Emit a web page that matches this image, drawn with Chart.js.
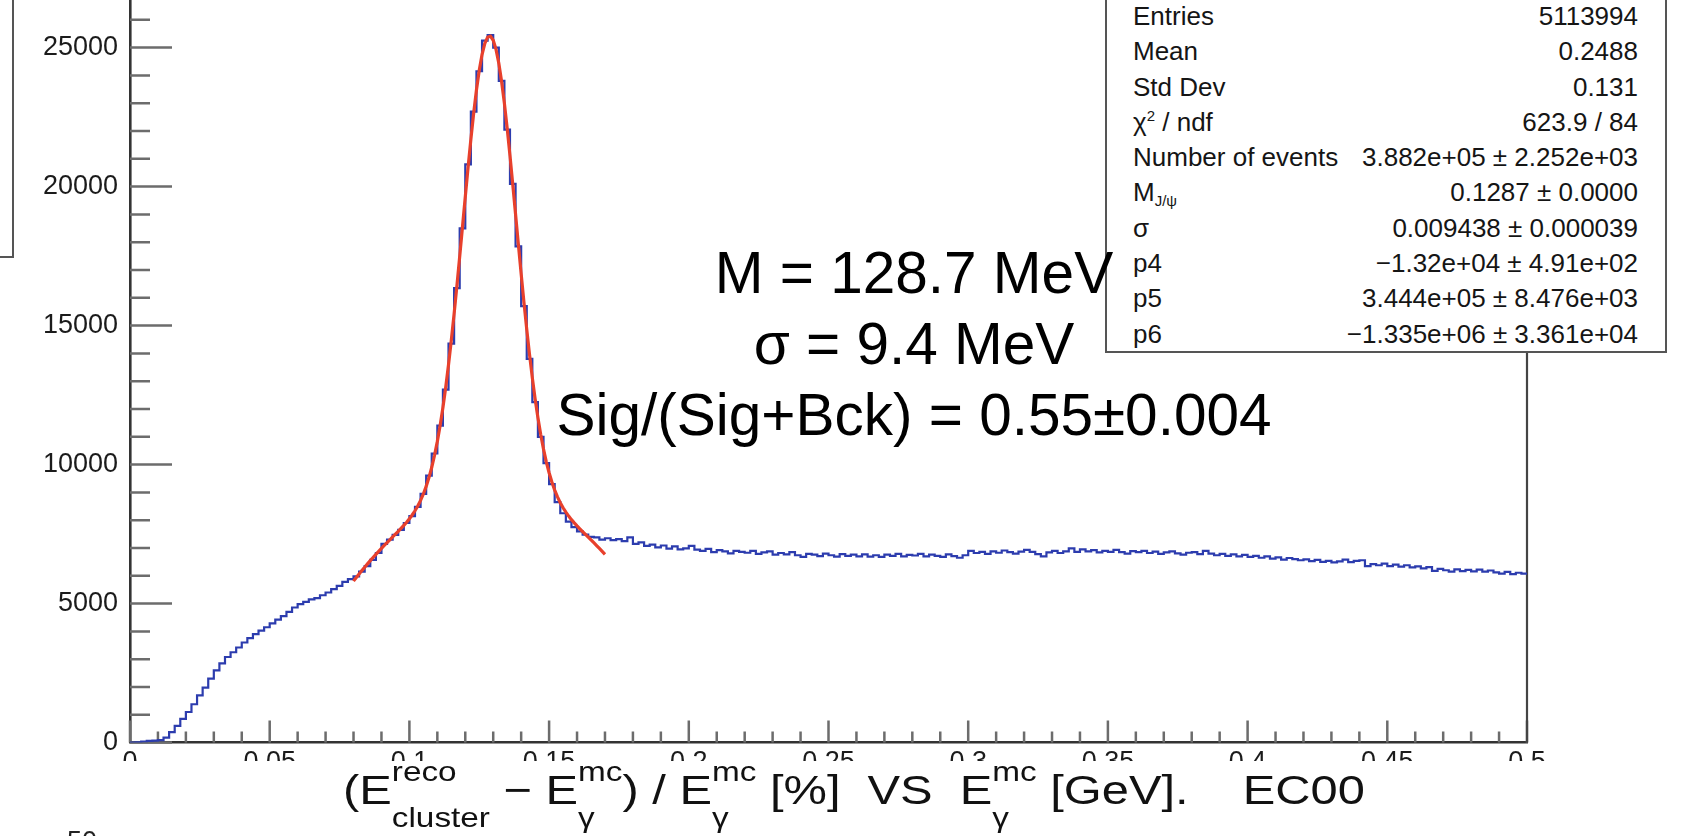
<!DOCTYPE html>
<html>
<head>
<meta charset="utf-8">
<title>EC00 cluster energy resolution</title>
<script src="https://cdn.jsdelivr.net/npm/chart.js@4.4.1/dist/chart.umd.min.js"></script>
<style>
  html, body { margin: 0; padding: 0; background: #fff; overflow: hidden; }
  body { width: 1690px; height: 836px; position: relative; font-family: "Liberation Sans", Arial, sans-serif; color: #111; }
  #wrap { position: absolute; left: 0; top: -40px; width: 1690px; height: 876px; }
  #labelMask { position: absolute; left: 0; top: 761px; width: 1690px; height: 90px; background: #fff; }
  #xtitle { position: absolute; left: 343px; top: 759px; font-size: 41px; line-height: 40px; white-space: nowrap; color: #111;
            transform: scaleX(1.19); transform-origin: 0 0; }
  .ss { display: inline-grid; font-size: 28px; line-height: 26px; row-gap: 20px; vertical-align: 23px; }
  #nextPad { position: absolute; left: 67px; top: 826px; font-size: 27px; line-height: 30px; color: #222; }
  #legendEdge { position: absolute; left: -20px; top: -10px; width: 34px; height: 268px; box-sizing: border-box; border: 2.5px solid #555; }
  #stats { position: absolute; left: 1105px; top: -3px; width: 562px; height: 356px; box-sizing: border-box; border: 2px solid #555; background: #fff; padding: 0 27px 0 26px; }
  #stats .row { display: flex; justify-content: space-between; height: 35.3px; line-height: 35.3px; font-size: 26px; color: #151515; white-space: nowrap; }
  #stats sub, #stats sup { font-size: 15px; line-height: 0; }
  #stats sub { vertical-align: -5px; }
  #stats sup { vertical-align: 10px; }
  #notes { position: absolute; left: 514px; top: 237px; width: 800px; text-align: center; font-size: 58.5px; line-height: 71px; color: #000; white-space: nowrap; }
</style>
</head>
<body>
<div id="wrap"><canvas id="myChart"></canvas></div>
<div id="labelMask"></div>
<div id="xtitle">(E<span class="ss"><span>reco</span><span>cluster</span></span> − E<span class="ss"><span>mc</span><span>γ</span></span>) / E<span class="ss"><span>mc</span><span>γ</span></span> [%]&nbsp; VS &nbsp;E<span class="ss"><span>mc</span><span>γ</span></span> [GeV].&nbsp;&nbsp;&nbsp; EC00</div>
<div id="nextPad">50</div>
<div id="legendEdge"></div>
<div id="stats"></div>
<div id="notes"></div>
<script>
// histogram bins: left edges from 0 in steps of binWidth, contents read per bin
const binWidth = 0.002;
const histCounts = [
    0, 10, 40, 60, 70, 90, 180, 380, 600, 850,
    1100, 1380, 1700, 1980, 2300, 2600, 2850, 3080, 3250, 3420,
    3600, 3760, 3900, 4030, 4150, 4290, 4420, 4550, 4700, 4860,
    4980, 5060, 5150, 5200, 5300, 5400, 5520, 5640, 5780, 5880,
    5980, 6150, 6350, 6570, 6820, 7150, 7300, 7470, 7650, 7900,
    8150, 8480, 8950, 9600, 10400, 11400, 12700, 14350, 16350, 18500,
    20800, 22700, 24150, 25250, 25450, 25000, 23800, 22050, 20100, 17850,
    15700, 13800, 12250, 11000, 10050, 9300, 8650, 8250, 7950, 7750,
    7600, 7480, 7400, 7380, 7300, 7350, 7280, 7320, 7250, 7380,
    7150, 7200, 7080, 7120, 7020, 7090, 6980, 7060, 6950, 6990,
    7080, 6940, 6900, 6970, 6850, 6920, 6880, 6810, 6900, 6860,
    6830, 6900, 6790, 6840, 6880, 6760, 6820, 6770, 6850, 6740,
    6680, 6790, 6760, 6710, 6800, 6740, 6690, 6780, 6720, 6760,
    6700, 6770, 6690, 6740, 6680, 6760, 6720, 6790, 6700, 6750,
    6730, 6790, 6700, 6760, 6720, 6680, 6770, 6710, 6650, 6740,
    6900, 6820, 6860, 6790, 6880, 6830, 6910, 6850, 6800, 6870,
    6930, 6860, 6780, 6700, 6840, 6900, 6820, 6880, 6990, 6860,
    6950, 6880, 6920, 6840, 6900, 6860, 6930, 6850, 6800, 6890,
    6850, 6900, 6820, 6870, 6790, 6840, 6880, 6810, 6760, 6830,
    6850, 6780, 6900, 6800, 6740, 6790, 6720, 6770, 6700, 6750,
    6680, 6720, 6650, 6700, 6620, 6660, 6580, 6640, 6600, 6560,
    6590, 6530, 6570, 6500, 6540, 6480, 6520, 6580, 6490, 6540,
    6560, 6350, 6420, 6380, 6440, 6350, 6400, 6330, 6380, 6300,
    6340, 6270, 6310, 6180, 6250, 6200, 6150, 6230, 6170, 6210,
    6160, 6220, 6150, 6190, 6120, 6080, 6140, 6060, 6110, 6080
];

// fit: gaussian (events, mean, sigma) + pol2 (p4, p5, p6), fitted on 1 MeV bins
const fitPar = [3.882e5, 0.1287, 0.009438, -1.32e4, 3.444e5, -1.335e6];
const fitRange = [0.08, 0.17];
const fitBinWidth = 0.001;

const xTickValues = [0, 0.05, 0.1, 0.15, 0.2, 0.25, 0.3, 0.35, 0.4, 0.45, 0.5];
const xTickLabels = ['0', '0.05', '0.1', '0.15', '0.2', '0.25', '0.3', '0.35', '0.4', '0.45', '0.5'];
const yTickValues = [0, 5000, 10000, 15000, 20000, 25000];
const yTickLabels = ['0', '5000', '10000', '15000', '20000', '25000'];

const statLabels = ['Entries', 'Mean', 'Std Dev', 'χ<sup>2</sup> / ndf', 'Number of events',
    'M<sub>J/ψ</sub>', 'σ', 'p4', 'p5', 'p6'];
const statValues = ['5113994', '0.2488', '0.131', '623.9 / 84',
    '3.882e+05 ± 2.252e+03', '0.1287 ± 0.0000', '0.009438 ± 0.000039',
    '−1.32e+04 ± 4.91e+02', '3.444e+05 ± 8.476e+03', '−1.335e+06 ± 3.361e+04'];

const noteLines = ['M = 128.7 MeV', 'σ = 9.4 MeV', 'Sig/(Sig+Bck) = 0.55±0.004'];

function fitValue(x) {
    const [n, m, s, p4, p5, p6] = fitPar;
    const gaus = n * fitBinWidth / (s * Math.sqrt(2 * Math.PI)) * Math.exp(-0.5 * ((x - m) / s) ** 2);
    return gaus + p4 + p5 * x + p6 * x * x;
}

const histPoints = histCounts.map((c, i) => ({ x: i * binWidth, y: c }));
histPoints.push({ x: histCounts.length * binWidth, y: histCounts[histCounts.length - 1] });

const fitPoints = [];
for (let i = 0; i <= Math.round((fitRange[1] - fitRange[0]) / fitBinWidth); i++) {
    const x = fitRange[0] + i * fitBinWidth;
    fitPoints.push({ x: x, y: fitValue(x) });
}

document.getElementById('stats').innerHTML = statLabels.map((l, i) =>
    `<div class="row"><span>${l}</span><span>${statValues[i]}</span></div>`).join('');
document.getElementById('notes').innerHTML = noteLines.map(t => `<div>${t}</div>`).join('');

// ROOT style ticks inside the frame, plus the right edge of the frame
const frameTicks = {
    id: 'frameTicks',
    beforeDatasetsDraw(chart) {
        const { ctx, chartArea, scales: { x, y } } = chart;
        ctx.save();
        ctx.strokeStyle = '#6c6c6c';
        ctx.lineWidth = 2.5;
        ctx.beginPath();
        for (let v = 0; v <= 26000; v += 1000) {
            const py = y.getPixelForValue(v);
            const len = v % 5000 === 0 ? 42 : 20;
            ctx.moveTo(chartArea.left, py);
            ctx.lineTo(chartArea.left + len, py);
        }
        for (let i = 0; i <= 50; i++) {
            const px = x.getPixelForValue(i / 100);
            const len = i % 5 === 0 ? 22 : 11;
            ctx.moveTo(px, chartArea.bottom);
            ctx.lineTo(px, chartArea.bottom - len);
        }
        ctx.stroke();
        ctx.strokeStyle = '#444';
        ctx.lineWidth = 2.2;
        ctx.beginPath();
        ctx.moveTo(chartArea.right, chartArea.top);
        ctx.lineTo(chartArea.right, chartArea.bottom);
        ctx.stroke();
        ctx.restore();
    }
};

const tickFont = { family: 'Liberation Sans', size: 27 };

const myChart = new Chart(document.getElementById('myChart').getContext('2d'), {
    type: 'line',
    data: {
        datasets: [{
            label: 'fit',
            data: fitPoints,
            borderColor: '#e8402c',
            borderWidth: 3.2,
            pointRadius: 0,
            tension: 0,
        }, {
            label: 'EC00',
            data: histPoints,
            borderColor: '#2c3cae',
            borderWidth: 2.2,
            pointRadius: 0,
            stepped: true,
        }]
    },
    options: {
        responsive: true,
        maintainAspectRatio: false,
        animation: false,
        layout: { padding: { top: 32, right: 163, left: 0, bottom: 0 } },
        plugins: {
            legend: { display: false },
            tooltip: { enabled: false },
        },
        scales: {
            x: {
                type: 'linear',
                min: 0,
                max: 0.5,
                grid: { display: false, drawTicks: false },
                border: { display: true, color: '#333', width: 2.6 },
                afterBuildTicks: (scale) => { scale.ticks = xTickValues.map(v => ({ value: v })); },
                afterFit: (scale) => { scale.height = 93.4; },
                ticks: {
                    autoSkip: false,
                    maxRotation: 0,
                    padding: 4,
                    color: '#1b1b1b',
                    font: tickFont,
                    callback: (value, index) => xTickLabels[index],
                },
            },
            y: {
                min: 0,
                max: 27000,
                grid: { display: false, drawTicks: false },
                border: { display: true, color: '#333', width: 2.6 },
                afterBuildTicks: (scale) => { scale.ticks = yTickValues.map(v => ({ value: v })); },
                afterFit: (scale) => { scale.width = 130; },
                ticks: {
                    padding: 12,
                    color: '#1b1b1b',
                    font: tickFont,
                    callback: (value, index) => yTickLabels[index],
                },
            }
        }
    },
    plugins: [frameTicks],
});
</script>
</body>
</html>
